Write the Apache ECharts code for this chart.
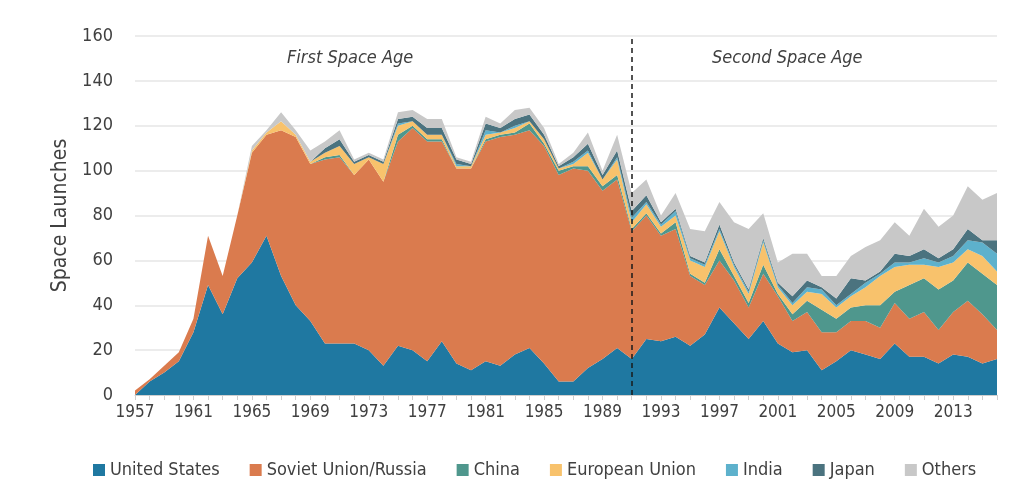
<!DOCTYPE html>
<html>
<head>
<meta charset="utf-8">
<script src="https://cdn.jsdelivr.net/npm/echarts@6/dist/echarts.min.js"></script>
<style>
  html, body { margin: 0; padding: 0; background: #fff; }
  #chart { width: 1030px; height: 501px; }
</style>
</head>
<body>
<div id="chart"></div>
<script>
// launches per year
const years = [
  '1957', '1958', '1959', '1960', '1961', '1962', '1963', '1964', '1965', '1966',
  '1967', '1968', '1969', '1970', '1971', '1972', '1973', '1974', '1975', '1976',
  '1977', '1978', '1979', '1980', '1981', '1982', '1983', '1984', '1985', '1986',
  '1987', '1988', '1989', '1990', '1991', '1992', '1993', '1994', '1995', '1996',
  '1997', '1998', '1999', '2000', '2001', '2002', '2003', '2004', '2005', '2006',
  '2007', '2008', '2009', '2010', '2011', '2012', '2013', '2014', '2015', '2016'
]
const unitedStates = [
  0, 6, 10, 15, 28, 49, 36, 52, 59, 71,
  53, 40, 33, 23, 23, 23, 20, 13, 22, 20,
  15, 24, 14, 11, 15, 13, 18, 21, 14, 6,
  6, 12, 16, 21, 16, 25, 24, 26, 22, 27,
  39, 32, 25, 33, 23, 19, 20, 11, 15, 20,
  18, 16, 23, 17, 17, 14, 18, 17, 14, 16
]
const sovietRussia = [
  2, 1, 3, 4, 6, 22, 17, 28, 49, 45,
  65, 75, 70, 82, 83, 75, 85, 82, 91, 99,
  98, 89, 87, 90, 98, 102, 98, 97, 97, 92,
  95, 88, 75, 75, 57, 55, 47, 48, 31, 22,
  21, 19, 14, 21, 21, 14, 17, 17, 13, 13,
  15, 14, 18, 17, 20, 15, 19, 25, 22, 13
]
const china = [
  0, 0, 0, 0, 0, 0, 0, 0, 0, 0,
  0, 0, 0, 1, 1, 0, 0, 0, 3, 1,
  1, 1, 0, 0, 1, 1, 1, 3, 1, 2,
  1, 2, 2, 2, 1, 1, 1, 3, 1, 1,
  5, 2, 2, 4, 1, 3, 5, 10, 6, 6,
  7, 10, 5, 15, 15, 18, 14, 17, 18, 20
]
const europeanUnion = [
  0, 0, 0, 0, 0, 0, 0, 0, 1, 1,
  4, 1, 1, 2, 4, 5, 1, 8, 4, 2,
  2, 2, 1, 1, 2, 1, 2, 1, 2, 1,
  1, 6, 3, 7, 3, 4, 3, 3, 6, 7,
  8, 4, 4, 10, 3, 4, 4, 7, 5, 5,
  8, 13, 11, 9, 6, 10, 8, 6, 8, 6
]
const india = [
  0, 0, 0, 0, 0, 0, 0, 0, 0, 0,
  0, 0, 0, 0, 0, 0, 0, 0, 1, 0,
  0, 0, 1, 0, 2, 0, 1, 0, 0, 0,
  1, 1, 0, 1, 2, 1, 1, 2, 1, 1,
  1, 1, 1, 1, 1, 1, 2, 2, 1, 1,
  2, 1, 2, 1, 3, 2, 3, 4, 6, 8
]
const japan = [
  0, 0, 0, 0, 0, 0, 0, 0, 0, 0,
  0, 0, 0, 2, 3, 1, 1, 1, 2, 2,
  3, 3, 2, 1, 3, 2, 3, 3, 2, 1,
  2, 3, 2, 3, 3, 3, 1, 1, 1, 1,
  2, 1, 1, 1, 1, 3, 3, 1, 3, 7,
  1, 1, 4, 3, 4, 2, 3, 5, 1, 6
]
const others = [
  0, 0, 0, 0, 0, 0, 0, 0, 2, 1,
  4, 2, 5, 3, 4, 1, 1, 1, 3, 3,
  4, 4, 1, 1, 3, 2, 4, 3, 3, 1,
  2, 5, 2, 7, 8, 7, 3, 7, 12, 14,
  10, 18, 27, 11, 9, 19, 12, 5, 10, 10,
  15, 14, 14, 9, 18, 14, 15, 19, 18, 21
]
const yTicks = { min: 0, max: 160, interval: 20 }
const dividerYear = '1991'

const font = "'Liberation Sans Narrow', 'DejaVu Sans Condensed', 'Roboto', sans-serif"
const textColor = '#404040'

function areaSeries(name, data, color) {
  return {
    name: name,
    type: 'line',
    stack: 'total',
    data: data,
    showSymbol: false,
    symbol: 'none',
    lineStyle: { width: 0 },
    areaStyle: { color: color, opacity: 1 },
    itemStyle: { color: color },
    emphasis: { disabled: true }
  }
}

const chart = echarts.init(document.getElementById('chart'))

const us = areaSeries('United States', unitedStates, '#1f78a1')
us.markLine = {
  silent: true,
  symbol: 'none',
  label: { show: false },
  lineStyle: { type: [5, 4], color: '#1a1a1a', width: 1.5 },
  data: [{ xAxis: dividerYear }]
}

const options = {
  animation: false,
  textStyle: { fontFamily: font },
  grid: {
    left: 135,
    right: 33,
    top: 36,
    bottom: 106
  },
  legend: {
    bottom: 17,
    left: 88,
    itemWidth: 12,
    itemHeight: 12,
    itemGap: 30,
    itemStyle: { borderWidth: 0 },
    icon: 'rect',
    textStyle: { fontSize: 18, color: textColor, fontFamily: font }
  },
  xAxis: {
    type: 'category',
    data: years,
    boundaryGap: false,
    axisLine: { lineStyle: { color: '#cfcfcf' } },
    axisTick: { interval: 0, length: 5, lineStyle: { color: '#cfcfcf' } },
    axisLabel: {
      interval: 3,
      margin: 9,
      fontSize: 17,
      color: textColor,
      fontFamily: font
    }
  },
  yAxis: {
    type: 'value',
    min: yTicks.min,
    max: yTicks.max,
    interval: yTicks.interval,
    name: 'Space Launches',
    nameLocation: 'middle',
    nameGap: 64,
    nameTextStyle: { fontSize: 21, color: textColor, fontFamily: font },
    axisLine: { show: false },
    axisTick: { show: false },
    splitLine: { lineStyle: { color: '#e6e6e6', width: 1.5 } },
    axisLabel: { margin: 22, fontSize: 18, color: textColor, fontFamily: font }
  },
  graphic: [
    {
      type: 'text',
      left: 287,
      top: 49,
      style: {
        text: 'First Space Age',
        fontSize: 18,
        fontStyle: 'italic',
        fill: textColor,
        fontFamily: font
      }
    },
    {
      type: 'text',
      left: 712,
      top: 49,
      style: {
        text: 'Second Space Age',
        fontSize: 18,
        fontStyle: 'italic',
        fill: textColor,
        fontFamily: font
      }
    }
  ],
  series: [
    us,
    areaSeries('Soviet Union/Russia', sovietRussia, '#da7b4e'),
    areaSeries('China', china, '#4f978d'),
    areaSeries('European Union', europeanUnion, '#f8c26c'),
    areaSeries('India', india, '#5db1cc'),
    areaSeries('Japan', japan, '#4b737f'),
    areaSeries('Others', others, '#c8c8c8')
  ]
}

chart.setOption(options)
</script>
</body>
</html>
